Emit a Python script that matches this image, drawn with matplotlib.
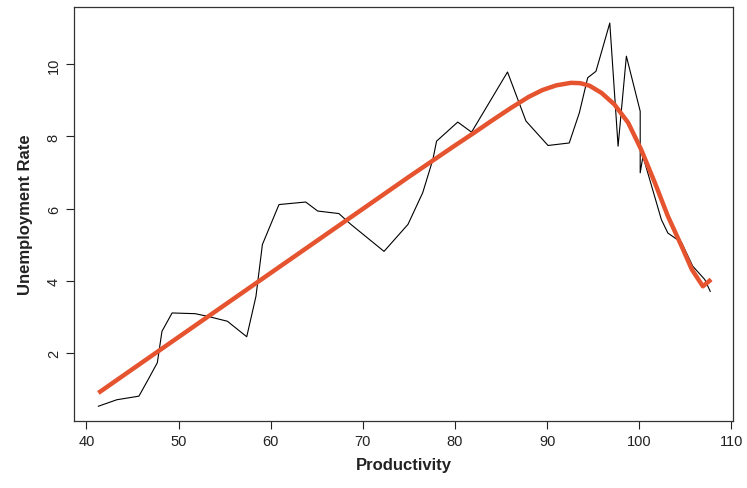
import numpy as np
import matplotlib
matplotlib.use("Agg")
import matplotlib.pyplot as plt

# observed series (productivity vs unemployment rate)
prod = [41.3, 43.3, 45.7, 46.7, 47.7, 48.2, 49.3, 51.8, 53.1, 55.3, 57.4, 58.4,
        59.1, 60.9, 63.8, 65.1, 67.4, 68.7, 72.3, 74.9, 76.5, 77.6, 78.0, 80.3,
        81.8, 85.7, 87.7, 90.1, 92.4, 93.5, 94.4, 95.3, 96.8, 97.7, 98.6, 100.1,
        100.1, 100.4, 102.4, 103.1, 104.6, 105.8, 107.1, 107.7]
unemp = [0.51, 0.69, 0.79, 1.25, 1.72, 2.59, 3.10, 3.08, 3.01, 2.87, 2.44, 3.56,
         5.00, 6.11, 6.18, 5.93, 5.86, 5.56, 4.81, 5.56, 6.44, 7.36, 7.87, 8.40,
         8.12, 9.79, 8.43, 7.75, 7.82, 8.66, 9.63, 9.81, 11.15, 7.73, 10.23, 8.70,
         6.99, 7.45, 5.69, 5.32, 5.05, 4.40, 4.03, 3.70]

# smoothed (loess) fit
fit_x = [41.3, 45, 50, 55, 60, 65, 70, 75, 80, 82, 84, 86, 88, 89.5, 91, 92.6,
         93.6, 94.6, 95.9, 97.3, 98.8, 100.2, 101.7, 103.1, 104.6, 105.7, 106.9, 107.8]
fit_y = [0.88, 1.54, 2.43, 3.32, 4.21, 5.10, 5.99, 6.88, 7.75, 8.09, 8.44, 8.78,
         9.10, 9.29, 9.42, 9.49, 9.48, 9.41, 9.21, 8.89, 8.38, 7.64, 6.71, 5.79,
         4.95, 4.31, 3.84, 4.03]

plt.rcParams['font.family'] = ['Liberation Sans', 'DejaVu Sans']

fig = plt.figure(figsize=(7.47, 4.89), dpi=100)
ax = fig.add_axes([0.099, 0.137, 0.882, 0.847])

ax.plot(prod, unemp, color='black', linewidth=0.8)
ax.plot(fit_x, fit_y, color='#e5532f', linewidth=3.2, solid_capstyle='butt',
        solid_joinstyle='round')

ax.set_xlim(38.65, 110.15)
ax.set_ylim(0.1, 11.6)
ax.set_xticks(range(40, 111, 10))
ax.set_yticks([2, 4, 6, 8, 10])
ax.tick_params(direction='out', length=6, width=0.8, labelsize=10.5, colors='#222222')
for lab in ax.get_yticklabels():
    lab.set_rotation(90)
    lab.set_va('center')
for s in ax.spines.values():
    s.set_linewidth(0.9)
    s.set_color('#333333')

ax.set_xlabel('Productivity', fontsize=12, fontweight='bold', color='#222222', labelpad=6)
ax.set_ylabel('Unemployment Rate', fontsize=12, fontweight='bold', color='#222222', labelpad=10)

fig.savefig('out.png', dpi=100)
